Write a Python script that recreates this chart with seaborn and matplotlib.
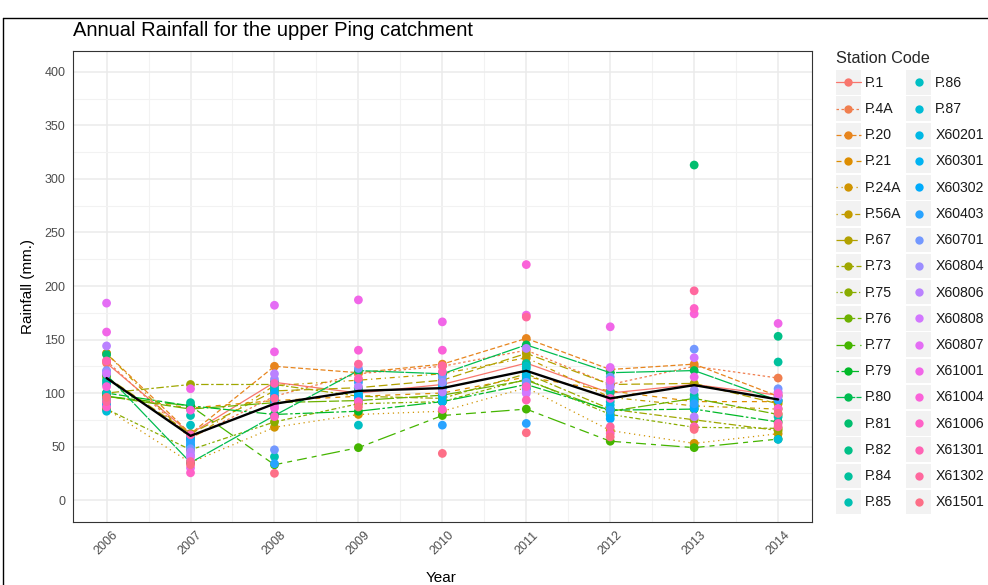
import numpy as np
import pandas as pd
import matplotlib
matplotlib.use("Agg")
import matplotlib.pyplot as plt
import seaborn as sns
from matplotlib.lines import Line2D
from matplotlib.patches import Rectangle
from matplotlib.legend_handler import HandlerLine2D

# ---------------- data ----------------
years = [2006, 2007, 2008, 2009, 2010, 2011, 2012, 2013, 2014]

stations = ["P.1", "P.4A", "P.20", "P.21", "P.24A", "P.56A", "P.67", "P.73", "P.75",
            "P.76", "P.77", "P.79", "P.80", "P.81", "P.82", "P.84", "P.85", "P.86",
            "P.87", "X60201", "X60301", "X60302", "X60403", "X60701", "X60804",
            "X60806", "X60808", "X60807", "X61001", "X61004", "X61006", "X61301",
            "X61302", "X61501"]

# linetypes of the first 13 stations (ggplot hex dash codes), others have no line
linetypes = ["solid", "22", "42", "44", "13", "1343", "73", "2262", "12223242",
             "F282", "F4448444", "224282F2", "F1"]

nan = np.nan
# annual rainfall (mm.) per year, in station order
rain_2006 = [128, 130, 137, 97, 85, 137, 115, 100, 85, 97, 97, 100, 117,
             136, 112, 108, 110, 100, 83, 95, 90, 88, 92, 121, 120, 144, 118, 184, 157, 106, 87, 130, 92, 96]
rain_2007 = [62, 58, 62, 86, 35, 57, 62, 108, 47, 85, 88, 88, 35,
             nan, nan, 91, 79, 70, 58, 50, 52, 56, 54, 48, 42, 45, 40, 30, 104, 84, 25.5, 61, 36, 33]
rain_2008 = [110, 97, 125, 93, 68, 107, 102, 108, 73, 91, 33, 80, 79,
             nan, 110, 103, 40.5, 105, 96.5, 92, 95, 100, 34, 47, 113, 118, 88, 182, 138.5, 86, 78, 109, 95, 25]
rain_2009 = [100, 118, 119, 97, 80, 112, 105, 97, 90, 93, 49, 83, 121,
             nan, nan, 104, 98, 70, nan, 100, 97, 95, 110, 123, nan, 106, nan, nan, 187, 140, 92, 113.6, 127, 87]
rain_2010 = [108, 125, 127, 100, 83, 118, 112, 95, 92, 98, 79, 92, 118,
             nan, nan, 118, 105, 100, 109, 96.5, 92, 105, 70, 115, 110, 101, nan, nan, 166.5, 140, 84.7, 120, 125.5, 43.6]
rain_2011 = [128, 140, 151, 115, 105, 133, 137, 118, 113, 112, 85, 108, 145,
             nan, nan, 127.6, 123, 125, 119, 116, 112, 104, 71.6, 110, 102, 141.7, 99.6, nan, 172.8, 220, 106, 93.4, 171, 62.9]
rain_2012 = [100, 108, 122, 102, 65, 96, 108, 85, 80, 83, 55, 84, 119,
             nan, nan, 101, 92, nan, 85, 88.7, 79, 76, 84, 115, 110, 106, nan, 123.9, 161.9, 112, 95, 62.3, 68.5, 59]
rain_2013 = [108, 125, 127, 92, 53, 88, 109, 75, 68, 95, 49, 85, 121,
             313, nan, 98, 95, nan, 93, 88, nan, 85.6, 90, 141, 102.7, 77.8, 133, nan, 115, 174, 179, 68.5, 195.5, 66]
rain_2014 = [98, 114, 97, 92, 62, 85, 90, 65, 67, 80, 57, 73, 93,
             nan, 153, 129, 77.8, nan, 56.7, nan, nan, nan, 93.4, 104, 101, 97, nan, nan, 165, 99.6, 85.6, 71.6, 68.5, 81]

mean_rain = [114, 60, 90, 102, 104.6, 120.8, 95, 107.4, 94]

# ---------------- helpers ----------------
def hcl(h, c=100.0, l=65.0):
    hr = np.deg2rad(h)
    u, v = c * np.cos(hr), c * np.sin(hr)
    Xn, Yn, Zn = 95.047, 100.0, 108.883
    Y = Yn * ((l + 16) / 116) ** 3
    den = Xn + 15 * Yn + 3 * Zn
    un, vn = 4 * Xn / den, 9 * Yn / den
    up, vp = u / (13 * l) + un, v / (13 * l) + vn
    X = 9 * Y * up / (4 * vp)
    Z = Y * (12 - 3 * up - 20 * vp) / (4 * vp)
    X, Y, Z = X / 100, Y / 100, Z / 100
    r = 3.240479 * X - 1.537150 * Y - 0.498535 * Z
    g = -0.969256 * X + 1.875992 * Y + 0.041556 * Z
    b = 0.055648 * X - 0.204043 * Y + 1.057311 * Z
    out = []
    for ch in (r, g, b):
        ch = 1.055 * ch ** (1 / 2.4) - 0.055 if ch > 0.0031308 else 12.92 * ch
        out.append(min(max(ch, 0.0), 1.0))
    return tuple(out)

n = len(stations)
hues = np.linspace(15, 375, n + 1)[:n]
palette = {s: hcl(h) for s, h in zip(stations, hues)}

def hex_dash(code):
    if code == "solid":
        return ""
    return tuple(int(ch, 16) for ch in code)

line_stations = stations[:len(linetypes)]
dash_map = {s: hex_dash(lt) for s, lt in zip(line_stations, linetypes)}

per_year = [rain_2006, rain_2007, rain_2008, rain_2009, rain_2010,
            rain_2011, rain_2012, rain_2013, rain_2014]
rows = []
for y, vals in zip(years, per_year):
    for s, v in zip(stations, vals):
        rows.append((y, s, v))
df = pd.DataFrame(rows, columns=["Year", "Station", "Rainfall"]).dropna()
df_lines = df[df["Station"].isin(line_stations)]

# ---------------- figure ----------------
sns.set_style("white")
plt.rcParams["font.family"] = ["Liberation Sans", "DejaVu Sans"]

W, H = 988, 585
fig = plt.figure(figsize=(W / 100, H / 100), dpi=100)
px_l, px_r, px_t, px_b = 73, 811.7, 50.5, 521.5
ax = fig.add_axes([px_l / W, 1 - px_b / H, (px_r - px_l) / W, (px_b - px_t) / H])

sns.lineplot(data=df_lines, x="Year", y="Rainfall", hue="Station", style="Station",
             hue_order=line_stations, style_order=line_stations,
             palette={s: palette[s] for s in line_stations}, dashes=dash_map,
             estimator=None, errorbar=None, linewidth=0.9, legend=False, ax=ax, zorder=2)
sns.scatterplot(data=df, x="Year", y="Rainfall", hue="Station", hue_order=stations,
                palette=palette, s=40, linewidth=0, legend=False, ax=ax, zorder=3)
sns.lineplot(x=years, y=mean_rain, color="black", linewidth=1.7, ax=ax, zorder=4)

ax.set_xlim(2005.6, 2014.4)
ax.set_ylim(-20, 420)
ax.set_xticks(years)
ax.set_xticks([y + 0.5 for y in years[:-1]], minor=True)
ax.set_yticks(np.arange(0, 401, 50))
ax.set_yticks(np.arange(25, 401, 50), minor=True)
ax.grid(which="major", color="#EBEBEB", linewidth=1.1)
ax.grid(which="minor", color="#F2F2F2", linewidth=0.8)
ax.set_axisbelow(True)
for sp in ax.spines.values():
    sp.set_color("#333333")
    sp.set_linewidth(0.8)
ax.tick_params(which="major", length=3.5, width=0.8, color="#333333",
               labelsize=9, labelcolor="#4D4D4D", pad=2)
ax.tick_params(which="minor", length=0)
plt.setp(ax.get_xticklabels(), rotation=45, ha="center", va="top")

ax.set_xlabel("Year", fontsize=11, color="black")
ax.set_ylabel("Rainfall (mm.)", fontsize=11, color="black")
ax.xaxis.set_label_coords((441 - px_l) / (px_r - px_l), -(571 - px_b) / (px_b - px_t))
ax.yaxis.set_label_coords(-(74 - 36) / (px_r - px_l), 0.5)

fig.text(px_l / W, 1 - 31 / H, "Annual Rainfall for the upper Ping catchment",
         fontsize=14.5, color="black", ha="left", va="center")

# ---------------- legend ----------------
class KeyBG(HandlerLine2D):
    def create_artists(self, legend, orig_handle, xdescent, ydescent, width, height, fontsize, trans):
        bg = Rectangle((-xdescent, -ydescent), width, height,
                       facecolor="#F2F2F2", edgecolor="none", transform=trans)
        arts = super().create_artists(legend, orig_handle, xdescent, ydescent,
                                      width, height, fontsize, trans)
        yc = height / 2 - ydescent
        for a in arts:
            if isinstance(a, Line2D):
                a.set_ydata(np.full(len(a.get_xdata()), yc))
        return [bg] + list(arts)

handles = []
for s in stations:
    if s in dash_map:
        d = dash_map[s]
        h = Line2D([0], [0], color=palette[s], linewidth=0.9, marker="o",
                   markersize=6, markeredgewidth=0)
        if d != "":
            h.set_dashes(d)
    else:
        h = Line2D([0], [0], color=palette[s], linestyle="none", marker="o",
                   markersize=6, markeredgewidth=0)
    handles.append(h)

leg = fig.legend(handles, stations, ncol=2, loc="upper left",
                 bbox_to_anchor=(836 / W, 1 - 51 / H), frameon=False,
                 fontsize=10.2, title="Station Code", title_fontsize=11.7,
                 handlelength=1.76, handleheight=2.28, labelspacing=0.124,
                 handletextpad=0.28, columnspacing=0.35, borderpad=0,
                 borderaxespad=0, alignment="left", handler_map={Line2D: KeyBG()})
leg._legend_box.sep = 3
for t in leg.get_texts():
    t.set_color("#1A1A1A")

# outer frame of the screenshot
fig.add_artist(Line2D([3 / W, 3 / W], [0, 1 - 18 / H], transform=fig.transFigure,
                      color="black", linewidth=1.0))
fig.add_artist(Line2D([3 / W, 1], [1 - 18 / H, 1 - 18 / H], transform=fig.transFigure,
                      color="black", linewidth=1.0))

fig.savefig("out.png", dpi=100)
